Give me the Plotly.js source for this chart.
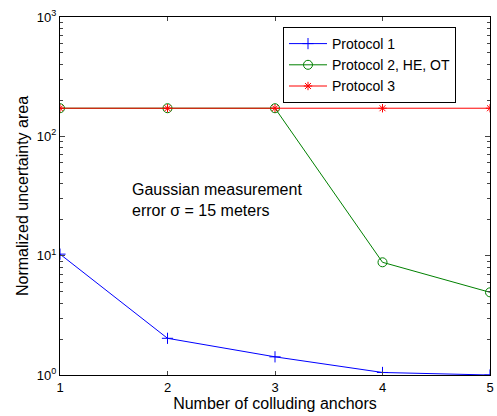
<!DOCTYPE html>
<html>
<head>
<meta charset="utf-8">
<script src="https://cdn.plot.ly/plotly-3.0.1.min.js"></script>
<style>html,body{margin:0;padding:0;background:#fff;}#chart{width:497px;height:416px;}</style>
</head>
<body>
<div id="chart"></div>
<script>
var anchors = [1, 2, 3, 4, 5];
var protocol1 = [10.3, 2.03, 1.42, 1.05, 1.0];
var protocol2 = [172, 172, 172, 8.8, 4.93];
var protocol3 = [172, 172, 172, 172, 172];
var names = ['Protocol 1', 'Protocol 2, HE, OT', 'Protocol 3'];
var yTickVals = [1, 10, 100, 1000];
var yTickText = ['10<sup>0</sup>', '10<sup>1</sup>', '10<sup>2</sup>', '10<sup>3</sup>'];
var yMinorVals = [2, 3, 4, 5, 6, 7, 8, 9, 20, 30, 40, 50, 60, 70, 80, 90, 200, 300, 400, 500, 600, 700, 800, 900];
var noteText = 'Gaussian measurement<br>error \u03c3 = 15 meters';

var fam = 'Liberation Sans, Arial, sans-serif';

var traces = [
  {x: anchors, y: protocol1, name: names[0], mode: 'lines+markers',
   line: {color: '#0000ff', width: 1},
   marker: {symbol: 'cross-thin-open', size: 8, color: '#0000ff', line: {color: '#0000ff', width: 1}}},
  {x: anchors, y: protocol2, name: names[1], mode: 'lines+markers',
   line: {color: '#008000', width: 1},
   marker: {symbol: 'circle-open', size: 9, color: '#008000', line: {color: '#008000', width: 1}}},
  {x: anchors, y: protocol3, name: names[2], mode: 'lines+markers',
   line: {color: '#ff0000', width: 1},
   marker: {symbol: 'asterisk-open', size: 7, color: '#ff0000', line: {color: '#ff0000', width: 1}}}
];

var layout = {
  width: 497, height: 416,
  margin: {l: 60, r: 7, t: 17, b: 41},
  paper_bgcolor: '#fff', plot_bgcolor: '#fff',
  font: {family: fam, size: 13, color: '#000'},
  showlegend: true,
  legend: {x: (456 - 60) / 430, y: (375 - 27) / 358, xanchor: 'right', yanchor: 'top',
           bordercolor: '#000', borderwidth: 1, bgcolor: '#fff',
           font: {family: fam, size: 14, color: '#000'},
           tracegroupgap: 0, itemwidth: 38},
  xaxis: {range: [1, 5], tickvals: anchors, ticks: 'inside', ticklen: 4,
          showline: true, linecolor: '#000', linewidth: 1, mirror: 'ticks',
          showgrid: false, zeroline: false,
          tickfont: {family: fam, size: 13, color: '#000'},
          title: {text: 'Number of colluding anchors', standoff: 1,
                  font: {family: fam, size: 16, color: '#000'}}},
  yaxis: {type: 'log', range: [0, 3], tickvals: yTickVals, ticktext: yTickText,
          ticks: 'inside', ticklen: 5,
          minor: {tickmode: 'array', tickvals: yMinorVals, ticks: 'inside', ticklen: 3, showgrid: false},
          showline: true, linecolor: '#000', linewidth: 1, mirror: 'ticks',
          showgrid: false, zeroline: false,
          tickfont: {family: fam, size: 13, color: '#000'},
          title: {text: 'Normalized uncertainty area', standoff: 4,
                  font: {family: fam, size: 16, color: '#000'}}},
  annotations: [{xref: 'paper', yref: 'paper', x: (130 - 60) / 430, y: (375 - 200) / 358,
                 xanchor: 'left', yanchor: 'middle', align: 'left', showarrow: false,
                 text: noteText, font: {family: fam, size: 16, color: '#000'}}]
};

Plotly.newPlot('chart', traces, layout, {displayModeBar: false, staticPlot: true});
</script>
</body>
</html>
